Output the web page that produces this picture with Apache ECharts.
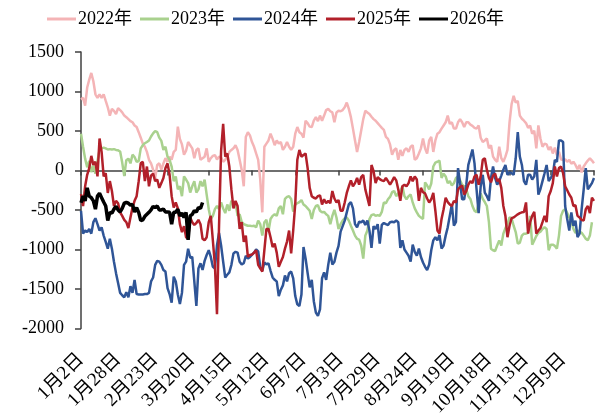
<!DOCTYPE html>
<html>
<head>
<meta charset="utf-8">
<script src="https://cdn.jsdelivr.net/npm/echarts@6/dist/echarts.min.js"></script>
<style>
html, body { margin: 0; padding: 0; background: #fff; }
#chart { width: 603px; height: 419px; }
</style>
</head>
<body>
<div id="chart"></div>
<script>
var tickLabels = ['1月2日', '1月28日', '2月23日', '3月20日', '4月15日', '5月12日', '6月7日',
    '7月3日', '7月29日', '8月24日', '9月19日', '10月18日', '11月13日', '12月9日'];
var labelStep = 18;
var pointCount = 250;
var yearNames = ['2022年', '2023年', '2024年', '2025年', '2026年'];

var s2022 = [900, 920, 820, 1050, 1150, 1235, 1130, 965, 920, 965,
    920, 965, 880, 800, 695, 780, 755, 715, 790, 765,
    735, 695, 675, 650, 625, 610, 570, 550, 485, 415,
    340, 300, 235, 135, 90, 10, -95, 70, 90, 10,
    90, 155, 110, 175, 135, 235, 260, 555, 400, 330,
    200, 250, 360, 320, 280, 155, 260, 280, 135, 155,
    175, 280, 110, 155, 185, 195, 140, 175, 165, 110,
    135, 175, 235, 260, 280, 320, 260, 135, 10, -200,
    425, 485, 445, 360, 300, 215, 135, -115, -530, 300,
    340, 380, 465, 400, 320, 380, 340, 360, 260, 300,
    360, 300, 260, 300, 465, 550, 485, 465, 415, 630,
    600, 555, 550, 630, 675, 625, 695, 630, 695, 765,
    780, 750, 735, 610, 735, 755, 750, 765, 800, 860,
    780, 675, 530, 380, 235, 360, 505, 650, 755, 735,
    715, 680, 650, 630, 600, 570, 540, 515, 425, 400,
    330, 200, 260, 280, 135, 260, 185, 260, 280, 235,
    300, 320, 135, 155, 215, 280, 405, 280, 215, 380,
    425, 235, 380, 465, 485, 530, 570, 610, 695, 590,
    610, 530, 530, 610, 650, 610, 550, 610, 610, 580,
    565, 540, 530, 570, 415, 360, 380, 405, 280, 320,
    175, 135, 110, 300, 155, 110, 175, 260, 610, 840,
    945, 860, 880, 695, 655, 630, 600, 540, 570, 465,
    505, 280, 570, 405, 300, 340, 330, 260, 300, 215,
    290, 195, 235, 140, 135, 140, 110, 135, 85, 110,
    70, 15, 70, -25, 50, 90, 125, 155, 125, 90];

var s2023 = [465, 300, 150, 40, 120, -20, 60, -40, 120, 260,
    280, 290, 280, 265, 270, 265, 270, 260, 255, 240,
    100, -70, 130, 150, 90, 200, 170, 110, 120, 280,
    320, 345, 360, 380, 430, 470, 500, 485, 415, 375,
    260, 300, 175, 135, 50, -135, -75, -240, -200, -325,
    -75, -115, -160, -280, -200, -135, -280, -240, -135, -200,
    -115, -305, -490, -615, -575, -490, -450, -490, -405, -480,
    -540, -430, -510, -385, -415, -405, -575, -555, -650, -680,
    -690, -700, -700, -705, -700, -720, -635, -680, -825, -655,
    -625, -775, -615, -575, -555, -575, -480, -450, -555, -360,
    -335, -325, -360, -520, -430, -415, -400, -375, -430, -450,
    -480, -510, -615, -500, -450, -440, -510, -530, -525, -555,
    -575, -680, -575, -500, -595, -740, -680, -635, -605, -595,
    -635, -700, -760, -825, -865, -875, -950, -1115, -825, -760,
    -615, -565, -555, -575, -565, -575, -525, -405, -415, -365,
    -335, -275, -260, -325, -290, -260, -200, -325, -365, -325,
    -305, -405, -480, -530, -575, -595, -615, -150, -190, -240,
    -165, 50, 100, 110, 125, -95, -40, -75, -160, -135,
    -190, -160, -95, -75, -125, -180, -200, -240, -325, -360,
    -450, -510, -530, -415, -290, -360, -400, -450, -655, -990,
    -1010, -1020, -950, -885, -950, -800, -730, -680, -595, -605,
    -700, -780, -925, -915, -825, -800, -800, -790, -575, -940,
    -885, -830, -790, -775, -740, -720, -740, -1010, -940, -940,
    -955, -990, -825, -575, -510, -490, -540, -595, -635, -740,
    -790, -760, -775, -790, -825, -865, -885, -825, -655];

var s2024 = [-510, -800, -760, -780, -740, -800, -655, -605, -680, -760,
    -720, -825, -905, -990, -865, -990, -1155, -1300, -1425, -1550,
    -1580, -1605, -1540, -1605, -1465, -1550, -1385, -1565, -1570, -1570,
    -1570, -1565, -1565, -1550, -1405, -1355, -1195, -1145, -1155, -1195,
    -1260, -1280, -1490, -1565, -1675, -1345, -1405, -1570, -1690, -1550,
    -1195, -1155, -990, -1105, -1095, -1405, -1715, -1240, -1175, -1260,
    -1145, -1070, -1010, -1095, -1220, -1240, -950, -790, -950, -1155,
    -1355, -1320, -1290, -1195, -1050, -1030, -1040, -1155, -1190, -1175,
    -1080, -1115, -1095, -1065, -1040, -1000, -1025, -1220, -1270, -1165,
    -1190, -1175, -1270, -1355, -1385, -1405, -1590, -1510, -1455, -1330,
    -1405, -1300, -1280, -1365, -1590, -1695, -1715, -1570, -970, -1115,
    -1300, -1480, -1385, -1655, -1800, -1840, -1760, -1365, -1290, -1385,
    -1195, -1040, -1190, -1155, -1040, -955, -775, -705, -635, -530,
    -430, -400, -480, -680, -720, -650, -655, -635, -690, -635,
    -760, -980, -705, -740, -680, -925, -690, -665, -680, -690,
    -655, -650, -655, -635, -655, -980, -885, -1000, -1040, -1080,
    -1155, -940, -1030, -1080, -990, -1095, -1165, -1220, -1260, -1190,
    -1010, -885, -845, -885, -815, -990, -950, -825, -720, -575,
    -430, -700, -650, 30, -160, -365, -365, -180, 70, 165,
    265, 90, -240, -540, -200, -55, -280, -325, -385, -95,
    50, -95, -180, -135, -65, 10, 70, -55, -25, -35,
    -55, 155, 485, 175, 70, -135, -180, -55, -55, -115,
    -75, 135, -305, -235, -135, -35, 70, -135, -95, -55,
    135, 110, 380, 380, 360, -450, -615, -760, -530, -700,
    -635, -845, -800, -490, -240, 30, -240, -200, -160, -95];

var s2025 = [-300, -450, -200, -55, 30, 185, 70, 110, -75, 405,
    235, -75, -35, -285, -135, -260, -450, -385, -415, -530,
    -575, -625, -655, -730, -595, -470, -385, -325, -135, 90,
    110, -135, 50, -200, -65, -40, -135, -115, -220, -160,
    -95, 30, 90, -55, -325, -470, -405, -480, -680, -780,
    -705, -845, -865, -595, -655, -690, -665, -625, -680, -865,
    -885, -845, -655, -575, -885, -1200, -1820, -700, 250, 590,
    175, 215, 50, -240, -480, -385, -450, -740, -655, -905,
    -825, -1095, -1070, -1065, -1040, -1010, -1195, -1240, -1280, -1010,
    -740, -740, -845, -970, -925, -1040, -1220, -1155, -1095, -990,
    -900, -760, -1050, -760, -420, 135, 260, 175, 195, 215,
    30, -220, -325, -345, -355, -325, -315, -430, -365, -415,
    -385, -415, -260, -355, -405, -375, -510, -510, -405, -285,
    -200, -125, -200, -160, -95, -180, -85, -55, -240, -345,
    -450, 70, -10, -160, -85, -110, -125, -135, -95, -135,
    -180, -135, -85, -125, -240, -385, -200, -180, -200, -160,
    -75, -135, -75, -115, -385, -220, -275, -290, -355, -405,
    -365, -285, -510, -760, -800, -615, -490, -345, -400, -430,
    -450, -385, -405, -240, -210, -190, -305, -260, -180, -135,
    -160, -75, -55, -180, -75, 135, 155, 10, -95, -150,
    -65, -40, -135, -110, -220, -450, -575, -845, -700, -605,
    -595, -575, -555, -540, -530, -525, -405, -800, -655, -575,
    -525, -800, -760, -730, -655, -575, -655, -325, -260, -160,
    50, -75, 30, 50, -35, -200, -250, -305, -345, -450,
    -440, -575, -595, -625, -635, -490, -450, -540, -345, -385];

var s2026 = [-410, -325, -385, -220, -325, -345, -385, -490, -325, -290,
    -345, -400, -450, -635, -530, -540, -490, -455, -500, -525,
    -480, -415, -405, -415, -440, -430, -525, -470, -530, -635,
    -625, -580, -555, -530, -500, -455, -470, -450, -500, -500,
    -490, -525, -525, -530, -680, -530, -530, -490, -575, -540,
    -595, -530, -880, -575, -555, -510, -525, -470, -480, -405];

var lineColors = ['#f4b4b6', '#a9d18e', '#2f5597', '#b2202a', '#000000'];
var lineWidths = [2.5, 2.5, 2.5, 2.5, 3.5];
var allData = [s2022, s2023, s2024, s2025, s2026];

var categories = [];
for (var i = 0; i < pointCount; i++) {
    categories.push(String(i));
}
// 12 equal tick gaps on the zero line, labels every 18 points
var tickIdx = [];
for (var k = 0; k <= 12; k++) {
    tickIdx.push(Math.round(k * (pointCount - 1) / 12));
}

var fontMix = "'Liberation Serif', 'Noto Sans CJK SC', serif";

var chart = echarts.init(document.getElementById('chart'));
var series = [];
for (var j = 0; j < yearNames.length; j++) {
    series.push({
        name: yearNames[j],
        type: 'line',
        xAxisIndex: 0,
        symbol: 'none',
        color: lineColors[j],
        lineStyle: { width: lineWidths[j], color: lineColors[j] },
        data: allData[j]
    });
}

chart.setOption({
    animation: false,
    backgroundColor: '#fff',
    legend: {
        data: yearNames,
        left: 42,
        top: 5,
        icon: 'rect',
        itemWidth: 29,
        itemHeight: 3,
        itemGap: 8,
        textStyle: { fontSize: 18, color: '#000', fontFamily: fontMix, padding: [0, 0, 0, -3] }
    },
    grid: { left: 81, right: 9, top: 52, bottom: 87, containLabel: false },
    xAxis: [{
        type: 'category',
        data: categories,
        boundaryGap: false,
        position: 'bottom',
        axisLine: { show: false, onZero: false },
        axisTick: { show: false },
        splitLine: { show: false },
        axisLabel: {
            rotate: 45,
            margin: 28,
            fontSize: 19,
            color: '#000',
            fontFamily: fontMix,
            interval: function (idx) {
                return idx % labelStep === 0 && idx / labelStep < tickLabels.length;
            },
            formatter: function (v, idx) {
                return tickLabels[idx / labelStep] || '';
            }
        }
    }, {
        type: 'category',
        data: categories,
        boundaryGap: false,
        position: 'bottom',
        axisLine: { show: true, onZero: true, lineStyle: { color: '#404040', width: 1.5 } },
        axisTick: {
            show: true,
            length: 5,
            lineStyle: { color: '#404040', width: 1.5 },
            interval: function (idx) { return tickIdx.indexOf(idx) >= 0; }
        },
        axisLabel: { show: false },
        splitLine: { show: false }
    }],
    yAxis: {
        type: 'value',
        min: -2000,
        max: 1500,
        interval: 500,
        axisLine: { show: true, lineStyle: { color: '#404040', width: 1.5 } },
        axisTick: { show: true, length: 6, lineStyle: { color: '#404040', width: 1.5 } },
        splitLine: { show: false },
        axisLabel: {
            fontSize: 18,
            color: '#000',
            margin: 17,
            fontFamily: fontMix,
            formatter: function (v) { return String(v); }
        }
    },
    series: series
});
</script>
</body>
</html>
